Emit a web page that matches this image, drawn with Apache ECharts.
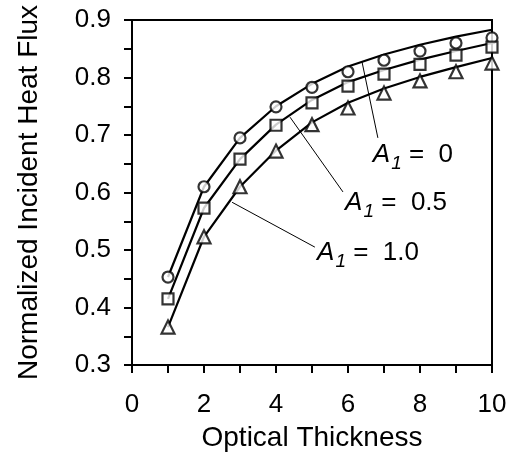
<!DOCTYPE html>
<html>
<head>
<meta charset="utf-8">
<script src="https://cdn.jsdelivr.net/npm/echarts@6/dist/echarts.min.js"></script>
<style>
html,body{margin:0;padding:0;background:#fff;}
#c{width:513px;height:463px;}
</style>
</head>
<body>
<div id="c"></div>
<script>
// ---- data ----
const xValues = [1, 2, 3, 4, 5, 6, 7, 8, 9, 10];
// measured points (markers)
const pointsA0   = [0.453, 0.610, 0.695, 0.749, 0.783, 0.810, 0.830, 0.846, 0.860, 0.869];
const pointsA05  = [0.415, 0.573, 0.658, 0.717, 0.756, 0.785, 0.806, 0.823, 0.839, 0.853];
const pointsA10  = [0.366, 0.523, 0.610, 0.672, 0.718, 0.747, 0.773, 0.794, 0.810, 0.825];
// model curves (lines)
const curveA0    = [0.453, 0.610, 0.695, 0.750, 0.789, 0.819, 0.840, 0.857, 0.871, 0.883];
const curveA05   = [0.415, 0.573, 0.658, 0.718, 0.761, 0.792, 0.813, 0.831, 0.846, 0.860];
const curveA10   = [0.366, 0.523, 0.610, 0.673, 0.722, 0.756, 0.781, 0.801, 0.818, 0.834];
const seriesLabels = ['0', '0.5', '1.0'];
const xTitle = 'Optical Thickness';
const yTitle = 'Normalized Incident Heat Flux';

// annotation placement (data coordinates)
const annotations = [
  { label: seriesLabels[0], text: [6.69, 0.688], from: [6.39, 0.827], to: [6.83, 0.695] },
  { label: seriesLabels[1], text: [5.92, 0.604], from: [4.39, 0.731], to: [5.86, 0.601] },
  { label: seriesLabels[2], text: [5.14, 0.517], from: [2.78, 0.583], to: [5.08, 0.505] }
];

const FONT = 'Liberation Sans, Arial, sans-serif';
const pair = (xs, ys) => xs.map((x, i) => [x, ys[i]]);

function lineSeries(vals) {
  return {
    type: 'line', data: pair(xValues, vals), showSymbol: false, symbol: 'none',
    lineStyle: { color: '#000', width: 2.2 }, silent: true, z: 2
  };
}
function markerSeries(vals, symbol, size) {
  return {
    type: 'scatter', data: pair(xValues, vals), symbol: symbol, symbolSize: size,
    itemStyle: { color: '#fff', borderColor: '#000', borderWidth: 2.2 }, z: 3
  };
}

const chart = echarts.init(document.getElementById('c'), null, { renderer: 'canvas' });
chart.setOption({
  animation: false,
  backgroundColor: '#fff',
  grid: { left: 132, right: 21, top: 20, bottom: 98, show: true, borderColor: '#000', borderWidth: 2, backgroundColor: 'transparent' },
  xAxis: {
    type: 'value', min: 0, max: 10, interval: 2,
    name: xTitle, nameLocation: 'middle', nameGap: 59,
    nameTextStyle: { fontFamily: FONT, fontSize: 28, color: '#000' },
    axisLine: { lineStyle: { color: '#000', width: 2 } },
    axisTick: { show: true, length: 8, lineStyle: { color: '#000', width: 2 } },
    minorTick: { show: true, splitNumber: 2, length: 8, lineStyle: { color: '#000', width: 2 } },
    axisLabel: { fontFamily: FONT, fontSize: 26, color: '#000', margin: 27 },
    splitLine: { show: false }
  },
  yAxis: {
    type: 'value', min: 0.3, max: 0.9, interval: 0.1,
    name: yTitle, nameLocation: 'middle', nameGap: 89,
    nameTextStyle: { fontFamily: FONT, fontSize: 28, color: '#000' },
    axisLine: { lineStyle: { color: '#000', width: 2 } },
    axisTick: { show: true, length: 8, lineStyle: { color: '#000', width: 2 } },
    minorTick: { show: true, splitNumber: 2, length: 8, lineStyle: { color: '#000', width: 2 } },
    axisLabel: { fontFamily: FONT, fontSize: 26, color: '#000', margin: 21, formatter: v => v.toFixed(1) },
    splitLine: { show: false }
  },
  series: [
    lineSeries(curveA0), lineSeries(curveA05), lineSeries(curveA10),
    markerSeries(pointsA0, 'circle', 11),
    markerSeries(pointsA05, 'rect', 11),
    markerSeries(pointsA10, 'triangle', 13)
  ]
});

const graphics = [];
annotations.forEach(a => {
  const p1 = chart.convertToPixel({ gridIndex: 0 }, a.from);
  const p2 = chart.convertToPixel({ gridIndex: 0 }, a.to);
  const pt = chart.convertToPixel({ gridIndex: 0 }, a.text);
  graphics.push({
    type: 'line', shape: { x1: p1[0], y1: p1[1], x2: p2[0], y2: p2[1] },
    style: { stroke: '#000', lineWidth: 1 }, z: 10
  });
  graphics.push({
    type: 'text', x: pt[0], y: pt[1], z: 10,
    style: {
      text: '{a|A}{s|1}{b| =  ' + a.label + '}',
      fill: '#000', align: 'left', verticalAlign: 'top',
      rich: {
        a: { fontFamily: FONT, fontStyle: 'italic', fontSize: 26, lineHeight: 26, verticalAlign: 'top', fill: '#000' },
        s: { fontFamily: FONT, fontStyle: 'italic', fontSize: 19, lineHeight: 19, verticalAlign: 'top', padding: [12, 0, 0, 1], fill: '#000' },
        b: { fontFamily: FONT, fontSize: 26, lineHeight: 26, verticalAlign: 'top', fill: '#000' }
      }
    }
  });
});
chart.setOption({ graphic: graphics });
</script>
</body>
</html>
